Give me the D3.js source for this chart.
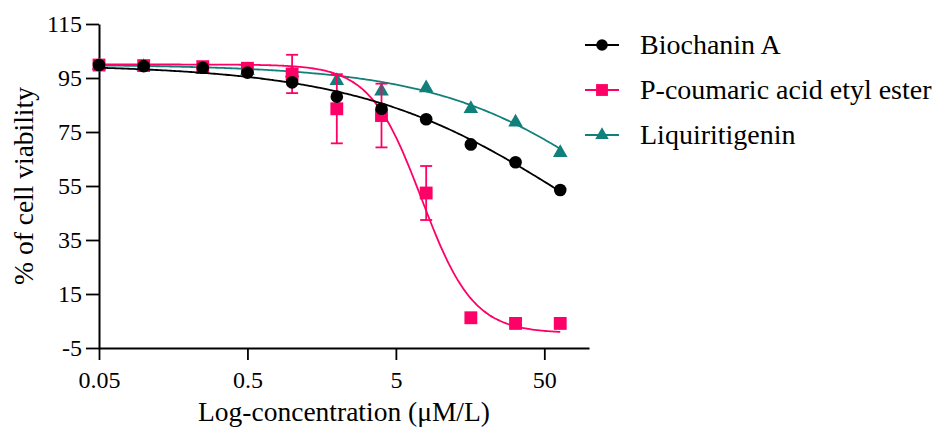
<!DOCTYPE html>
<html>
<head>
<meta charset="utf-8">
<script src="https://cdn.jsdelivr.net/npm/d3@7"></script>
<style>
  body { margin: 0; background: #fff; }
  svg text { font-family: Tinos, "Liberation Serif", "Times New Roman", serif; fill: #000; }
</style>
</head>
<body>
<svg id="chart"></svg>
<script>
// Concentrations (uM/L) and mean viability
const concentrations = [0.05, 0.1, 0.25, 0.5, 1, 2, 4, 8, 16, 32, 64];
const seriesNames = ["Biochanin A", "P-coumaric acid etyl ester", "Liquiritigenin"];
const biochaninValues = [99.8, 99.4, 98.8, 97, 93.4, 88.1, 83.6, 79.7, 70.4, 63.8, 53.5];
const coumaricValues = [99.8, 99.6, 99.2, 98.6, 96.5, 83.6, 81.1, 52.4, 6.2, 4.1, 4.1];
const coumaricErrors = [0, 0, 0, 0, 7.1, 12.8, 11.8, 10, 0, 0, 0];
const liquiritigeninValues = [99.6, 99.2, 98.0, 97.8, 96.8, 94.0, 90.1, 91.3, 83.6, 78.6, 67.3];

// Fitted dose-response curves (4PL): top, bottom, IC50, hill slope
const fitTop = [100, 100, 100];
const fitBottom = [0, 0.5, 0];
const fitIC50 = [78, 7.45, 204];
const fitHill = [0.6, 2.5, 0.68];

const xTicks = [0.05, 0.5, 5, 50];
const yTicks = [-5, 15, 35, 55, 75, 95, 115];

const colors = ["#000000", "#ff0066", "#12807a"];
const symbols = [d3.symbolCircle, d3.symbolSquare, d3.symbolTriangle];
const symbolSizes = [125, 165, 92];

const canvas = { width: 936, height: 431 };
const plot = { left: 99, right: 589, top: 24, bottom: 348 };

const svg = d3.select("#chart")
  .attr("width", canvas.width)
  .attr("height", canvas.height);

const xScale = d3.scaleLog().domain([0.05, 100]).range([plot.left, plot.right]);
const yScale = d3.scaleLinear().domain([-5, 115]).range([plot.bottom, plot.top]);

const fourPL = (i, c) =>
  fitBottom[i] + (fitTop[i] - fitBottom[i]) /
    (1 + Math.pow(10, (Math.log10(c) - Math.log10(fitIC50[i])) * fitHill[i]));

// axes
const xAxis = d3.axisBottom(xScale).tickValues(xTicks).tickFormat((d) => String(d)).tickSize(12).tickSizeOuter(0);
const yAxis = d3.axisLeft(yScale).tickValues(yTicks).tickFormat((d) => String(d)).tickSize(13).tickSizeOuter(0);

const gx = svg.append("g")
  .attr("transform", "translate(0," + plot.bottom + ")")
  .call(xAxis);
gx.select(".domain").attr("stroke-width", 2);
gx.selectAll(".tick line").attr("stroke-width", 1.8);
gx.selectAll(".tick text")
  .attr("font-size", 24)
  .attr("dy", 0)
  .attr("y", 40);

const gy = svg.append("g")
  .attr("transform", "translate(" + plot.left + ",0)")
  .call(yAxis);
gy.select(".domain").attr("stroke-width", 2);
gy.selectAll(".tick line").attr("stroke-width", 1.8);
gy.selectAll(".tick text")
  .attr("font-size", 24)
  .attr("x", -17)
  .attr("dy", "0.33em");

svg.append("text")
  .attr("x", (plot.left + plot.right) / 2)
  .attr("y", 421)
  .attr("text-anchor", "middle")
  .attr("font-size", 27.5)
  .text("Log-concentration (\u03bcM/L)");

svg.append("text")
  .attr("transform", "translate(33," + (plot.top + plot.bottom) / 2 + ") rotate(-90)")
  .attr("text-anchor", "middle")
  .attr("font-size", 27.5)
  .text("% of cell viability");

// fitted curves
const samples = d3.range(0, 201).map((k) => 0.05 * Math.pow(64 / 0.05, k / 200));
const line = d3.line()
  .x((d) => xScale(d[0]))
  .y((d) => yScale(d[1]))
  .curve(d3.curveBasis);

const drawSeries = (i, values, errors) => {
  svg.append("path")
    .datum(samples.map((c) => [c, fourPL(i, c)]))
    .attr("fill", "none")
    .attr("stroke", colors[i])
    .attr("stroke-width", 1.8)
    .attr("d", line);

  if (errors) {
    const eb = svg.append("g").attr("stroke", colors[i]).attr("stroke-width", 1.8);
    concentrations.forEach((c, k) => {
      if (!errors[k]) return;
      const x = xScale(c);
      const y1 = yScale(values[k] + errors[k]);
      const y2 = yScale(values[k] - errors[k]);
      eb.append("line").attr("x1", x).attr("x2", x).attr("y1", y1).attr("y2", y2);
      eb.append("line").attr("x1", x - 6).attr("x2", x + 6).attr("y1", y1).attr("y2", y1);
      eb.append("line").attr("x1", x - 6).attr("x2", x + 6).attr("y1", y2).attr("y2", y2);
    });
  }

  svg.append("g")
    .selectAll("path")
    .data(values)
    .enter()
    .append("path")
    .attr("d", d3.symbol().type(symbols[i]).size(symbolSizes[i]))
    .attr("fill", colors[i])
    .attr("transform", (v, k) => "translate(" + xScale(concentrations[k]) + "," + yScale(v) + ")");
};

drawSeries(2, liquiritigeninValues, null);
drawSeries(1, coumaricValues, coumaricErrors);
drawSeries(0, biochaninValues, null);

// legend
const legend = svg.append("g");
seriesNames.forEach((name, i) => {
  const y = 45 + i * 45;
  legend.append("line")
    .attr("x1", 585).attr("x2", 619)
    .attr("y1", y).attr("y2", y)
    .attr("stroke", colors[i])
    .attr("stroke-width", 1.8);
  legend.append("path")
    .attr("d", d3.symbol().type(symbols[i]).size(symbolSizes[i] * 0.85))
    .attr("fill", colors[i])
    .attr("transform", "translate(602," + y + ")");
  legend.append("text")
    .attr("x", 640)
    .attr("y", y + 9)
    .attr("font-size", 28)
    .text(name);
});
</script>
</body>
</html>
